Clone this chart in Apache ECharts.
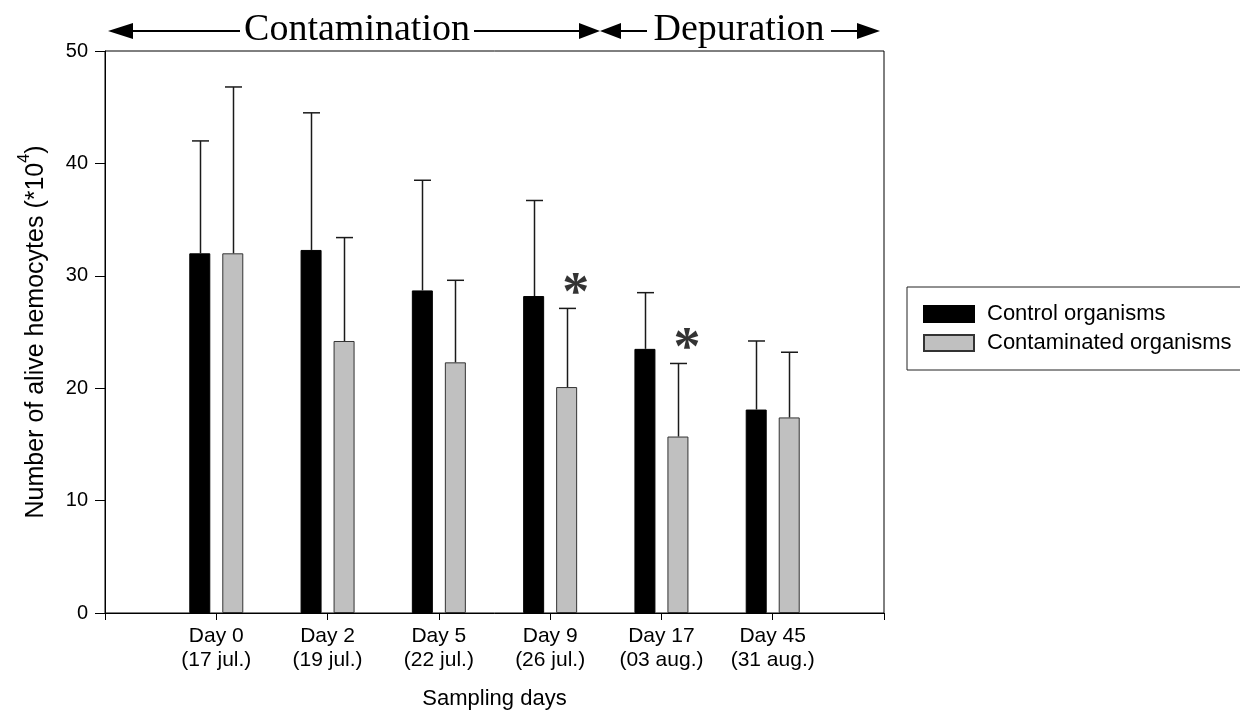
<!DOCTYPE html>
<html><head><meta charset="utf-8">
<script src="https://cdn.jsdelivr.net/npm/echarts@6/dist/echarts.min.js"></script>
<style>html,body{margin:0;padding:0;background:#fff}#c{width:1240px;height:713px}</style>
</head><body><div id="c"></div>
<script>
// ---- data ----
const days = ['Day 0','Day 2','Day 5','Day 9','Day 17','Day 45'];
const dates = ['(17 jul.)','(19 jul.)','(22 jul.)','(26 jul.)','(03 aug.)','(31 aug.)'];
const controlMean  = [32.0, 32.3, 28.7, 28.2, 23.5, 18.1];
const controlUpper = [42.0, 44.5, 38.5, 36.7, 28.5, 24.2];
const contamMean   = [32.0, 24.2, 22.3, 20.1, 15.7, 17.4];
const contamUpper  = [46.8, 33.4, 29.6, 27.1, 22.2, 23.2];
const significant  = [false, false, false, true, true, false];
const yMin = 0, yMax = 50, yStep = 10;
const seriesNames = ['Control organisms', 'Contaminated organisms'];

// ---- layout constants ----
const FONT = "'Liberation Sans', Arial, sans-serif";
const SERIF = "'Liberation Serif', 'Times New Roman', serif";
const BAR_W = 21, BAR_GAP = 12;
const OFF = (BAR_W + BAR_GAP) / 2;

const cats = [''].concat(days.map((d, i) => d + '\n' + dates[i]), ['']);
const pad = arr => [null].concat(arr, [null]);

function errorSeries(means, uppers, offset) {
  return {
    type: 'custom', silent: true, z: 3,
    renderItem(params, api) {
      const x = api.value(0), m = api.value(1), u = api.value(2);
      const p0 = api.coord([x, m]);
      const p1 = api.coord([x, u]);
      const cx = Math.round(p0[0] + offset) + 0.5;
      const st = { stroke: '#1a1a1a', lineWidth: 1.5 };
      return { type: 'group', children: [
        { type: 'line', shape: { x1: cx, y1: p0[1], x2: cx, y2: p1[1] }, style: st },
        { type: 'line', shape: { x1: cx - 8.5, y1: p1[1], x2: cx + 8.5, y2: p1[1] }, style: st }
      ]};
    },
    encode: { x: 0, y: [1, 2] },
    data: means.map((m, i) => [i + 1, m, uppers[i]])
  };
}

// ---- top annotation (arrows) ----
const AY = 31;
function head(tip, base) {
  return { type: 'polygon', shape: { points: [[tip, AY], [base, AY - 8], [base, AY + 8]] }, style: { fill: '#000' } };
}
function seg(x1, x2) {
  return { type: 'line', shape: { x1: x1, y1: AY, x2: x2, y2: AY }, style: { stroke: '#000', lineWidth: 2 } };
}
function label(txt, x) {
  return { type: 'text', style: { text: txt, x: x, y: AY - 1, fontFamily: SERIF, fontSize: 38, fill: '#000', textAlign: 'center', textVerticalAlign: 'middle' } };
}

const chart = echarts.init(document.getElementById('c'), null, { renderer: 'canvas' });
chart.setOption({
  backgroundColor: '#fff',
  animation: false,
  textStyle: { fontFamily: FONT, color: '#000' },
  grid: { left: 105, right: 356, top: 51, bottom: 100, show: true, borderColor: '#000', borderWidth: 1,
    backgroundColor: 'transparent', containLabel: false, outerBoundsMode: 'none' },
  legend: {
    data: seriesNames, orient: 'vertical', left: 907, top: 287,
    borderColor: '#222', borderWidth: 1, padding: [16, 60, 16, 16],
    itemWidth: 50, itemHeight: 16, itemGap: 7, icon: 'rect',
    textStyle: { fontFamily: FONT, fontSize: 22, color: '#000', padding: [0, 0, 0, 8] }
  },
  xAxis: {
    type: 'category', data: cats, boundaryGap: false,
    axisLine: { lineStyle: { color: '#000', width: 1 } },
    axisTick: { length: 7, lineStyle: { color: '#000' }, interval: 0 },
    axisLabel: { fontFamily: FONT, fontSize: 21, lineHeight: 24, color: '#000', margin: 11, interval: 0 },
    name: 'Sampling days', nameLocation: 'middle', nameGap: 75,
    nameTextStyle: { fontFamily: FONT, fontSize: 22, color: '#000' }
  },
  yAxis: {
    type: 'value', min: yMin, max: yMax, interval: yStep,
    axisLine: { show: true, lineStyle: { color: '#000', width: 1 } },
    axisTick: { show: true, length: 10, lineStyle: { color: '#000' } },
    axisLabel: { fontFamily: FONT, fontSize: 20, color: '#000', margin: 17 },
    splitLine: { show: false },
    name: '{t|Number of alive hemocytes (*10}{s|4}{t|)}', nameLocation: 'middle', nameGap: 56, nameRotate: 90,
    nameTextStyle: { rich: {
      t: { fontFamily: FONT, fontSize: 25, color: '#000', lineHeight: 32, verticalAlign: 'bottom' },
      s: { fontFamily: FONT, fontSize: 16, color: '#000', lineHeight: 32, verticalAlign: 'top' }
    } }
  },
  series: [
    { name: seriesNames[0], type: 'bar', data: pad(controlMean), barWidth: BAR_W, barGap: (BAR_GAP / BAR_W * 100) + '%',
      itemStyle: { color: '#000', borderColor: '#000', borderWidth: 1 }, z: 2 },
    { name: seriesNames[1], type: 'bar', data: pad(contamMean), barWidth: BAR_W,
      itemStyle: { color: '#c0c0c0', borderColor: '#333', borderWidth: 1 }, z: 2 },
    errorSeries(controlMean, controlUpper, -OFF),
    errorSeries(contamMean, contamUpper, OFF),
    { type: 'scatter', silent: true, symbolSize: 0, z: 4,
      data: contamUpper.map((u, i) => significant[i] ? [i + 1, u] : null).filter(d => d),
      label: { show: true, formatter: '*', position: 'inside', offset: [OFF + 9, -13],
        fontFamily: SERIF, fontSize: 54, fontWeight: 'bold', color: '#000' } }
  ],
  graphic: [
    head(108, 133), seg(132, 240), label('Contamination', 357),
    seg(474, 580), head(600, 579), head(600, 621), seg(620, 647),
    label('Depuration', 739), seg(831, 858), head(880, 857)
  ]
});
</script></body></html>
